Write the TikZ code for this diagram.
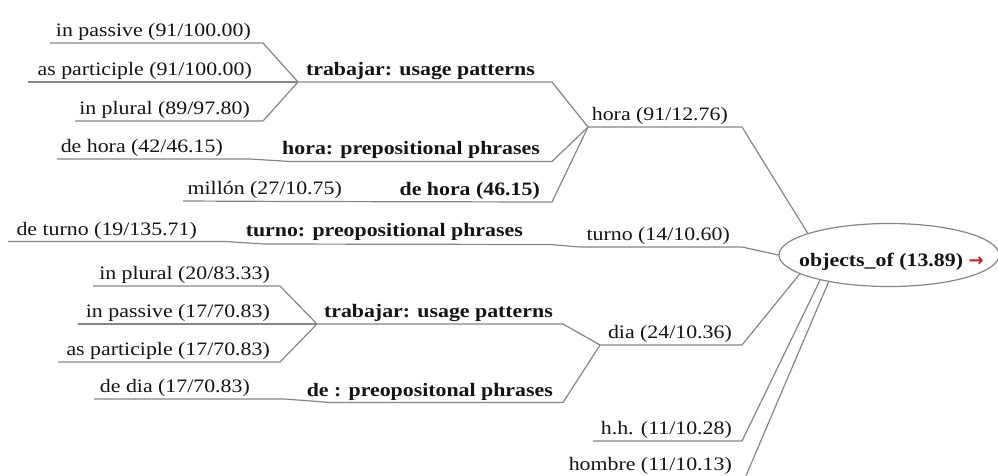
\documentclass[tikz,border=0pt]{standalone}
\usepackage{fontspec}
\setmainfont{Liberation Serif}[FakeStretch=1.15]
\newfontfamily\arrowfont{DejaVu Sans}
\usetikzlibrary{shapes.geometric}
\definecolor{txt}{HTML}{141414}
\definecolor{lnc}{HTML}{858585}
\definecolor{arrowred}{HTML}{B22A22}
\begin{document}
\begin{tikzpicture}[x=1pt,y=-1pt,
  lbl/.style={anchor=base east, inner sep=0pt, text=txt, font=\fontsize{19}{22}\selectfont},
  blbl/.style={lbl, font=\fontsize{19}{22}\selectfont\bfseries},
  conn/.style={draw=lnc, line width=1.2pt, line join=round}]
\useasboundingbox (0,0) rectangle (998,475);
\clip (0,0) rectangle (998,475);

% root
\node[draw=lnc, line width=1.2pt, ellipse, minimum width=220pt, minimum height=63pt, inner sep=0pt] (root) at (889,255) {};
\node[lbl, anchor=base west, font=\fontsize{19}{22}\selectfont\bfseries] (rootlbl) at (799,266)
      {objects\_of (13.89) \textcolor{arrowred}{\arrowfont\bfseries\fontsize{18}{20}\selectfont →}};

% junction / end coordinates
\coordinate (J1) at (298,82);
\coordinate (H) at (588,127);
\coordinate (J2) at (290,161.5);
\coordinate (J5) at (300,201.5);
\coordinate (J4) at (265,244);
\coordinate (T) at (580,247);
\coordinate (J3) at (317,324);
\coordinate (D) at (600,345);
\coordinate (J6) at (330,402.5);

\coordinate (a1) at (50,43);   \coordinate (a1e) at (263,43);
\coordinate (a2) at (28,82);
\coordinate (a3) at (75,121);  \coordinate (a3e) at (263,121);
\coordinate (m1e) at (552,82);
\coordinate (a4) at (57,159);  \coordinate (a4e) at (250,159);
\coordinate (m2e) at (552,161.5);
\coordinate (a5) at (183,201); \coordinate (m3e) at (552,202);
\coordinate (he) at (742,127);
\coordinate (a6) at (8,241.5); \coordinate (a6e) at (225,241.5);
\coordinate (m4e) at (550,244.5);
\coordinate (te) at (742,247);
\coordinate (b1) at (93,286);  \coordinate (b1e) at (280,286);
\coordinate (b2) at (78,324);
\coordinate (b3) at (58,362);  \coordinate (b3e) at (280,362);
\coordinate (m5e) at (563,324);
\coordinate (b4) at (94,399);  \coordinate (b4e) at (285,399);
\coordinate (m6e) at (563,402.5);
\coordinate (de) at (742,345);
\coordinate (c1) at (593,441); \coordinate (c1e) at (742,441);
\coordinate (c2) at (560,478); \coordinate (c2e) at (745,478);

% connectors
\draw[conn] (a1) -- (a1e) -- (J1);
\draw[conn] (a2) -- (J1);
\draw[conn] (a3) -- (a3e) -- (J1);
\draw[conn] (J1) -- (m1e) -- (H);
\draw[conn] (a4) -- (a4e) -- (J2);
\draw[conn] (J2) -- (m2e) -- (H);
\draw[conn] (a5) -- (J5) -- (m3e) -- (H);
\draw[conn] (H) -- (he) -- (root.165);
\draw[conn] (a6) -- (a6e) -- (J4) -- (m4e) -- (T) -- (te) -- (root.west);
\draw[conn] (b1) -- (b1e) -- (J3);
\draw[conn] (b2) -- (J3);
\draw[conn] (b3) -- (b3e) -- (J3);
\draw[conn] (J3) -- (m5e) -- (D);
\draw[conn] (b4) -- (b4e) -- (J6) -- (m6e) -- (D);
\draw[conn] (D) -- (de) -- (root.192);
\draw[conn] (c1) -- (c1e) -- (root.200);
\draw[conn] (c2) -- (c2e) -- (root.204);

% labels
\node[lbl] (t1) at (251,36) {in passive (91/100.00)};
\node[lbl] (t2) at (252,75) {as participle (91/100.00)};
\node[lbl] (t3) at (250,114) {in plural (89/97.80)};
\node[lbl] (t4) at (223,152) {de hora (42/46.15)};
\node[lbl] (t5) at (342,194) {millón (27/10.75)};
\node[lbl] (t6) at (197,235) {de turno (19/135.71)};
\node[blbl] (t7) at (535,75) {trabajar: usage patterns};
\node[blbl] (t8) at (540,154) {hora: prepositional phrases};
\node[blbl] (t9) at (540,195) {de hora (46.15)};
\node[blbl] (t10) at (523,236) {turno: preopositional phrases};
\node[lbl] (t11) at (728,120) {hora (91/12.76)};
\node[lbl] (t12) at (730,240) {turno (14/10.60)};
\node[lbl] (t13) at (270,279) {in plural (20/83.33)};
\node[lbl] (t14) at (270,317) {in passive (17/70.83)};
\node[lbl] (t15) at (270,355) {as participle (17/70.83)};
\node[lbl] (t16) at (250,392) {de dia (17/70.83)};
\node[blbl] (t17) at (553,317) {trabajar: usage patterns};
\node[blbl] (t18) at (553,396) {de : preopositonal phrases};
\node[lbl] (t19) at (732,338) {dia (24/10.36)};
\node[lbl] (t20) at (732,434) {h.h. (11/10.28)};
\node[lbl] (t21) at (732,470) {hombre (11/10.13)};
\end{tikzpicture}
\end{document}
